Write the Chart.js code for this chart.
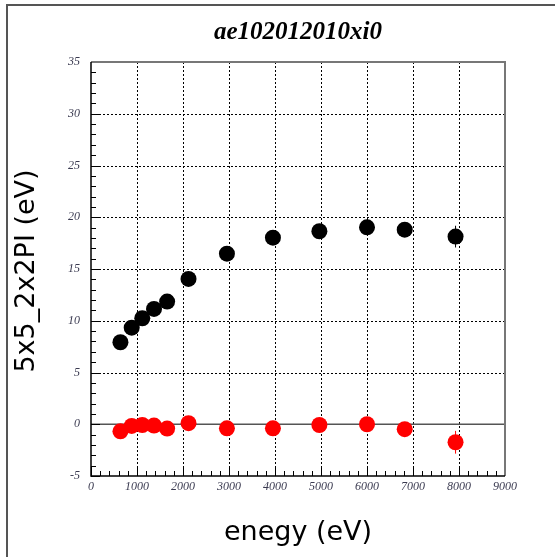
<!DOCTYPE html>
<html>
<head>
<meta charset="utf-8">
<script src="https://cdn.jsdelivr.net/npm/chart.js@4.4.1/dist/chart.umd.min.js"></script>
<style>
    body { margin: 0; background: #fff; }
    canvas { display: block; }
</style>
</head>
<body>
<canvas id="myChart" width="555" height="557"></canvas>
<script>
// values
const energy = [640, 885, 1115, 1370, 1655, 2120, 2955, 3955, 4965, 6000, 6820, 7925];
const width5x5 = [7.92, 9.33, 10.24, 11.14, 11.85, 14.04, 16.48, 18.03, 18.65, 19.03, 18.80, 18.13];
const widthErr5x5 = [0.3, 0.3, 0.3, 0.3, 0.3, 0.3, 0.4, 0.4, 0.4, 0.5, 0.5, 1.05];
const shift2x2 = [-0.68, -0.16, -0.07, -0.13, -0.42, 0.10, -0.39, -0.39, -0.07, 0.00, -0.48, -1.74];
const shiftErr2x2 = [0.3, 0.3, 0.3, 0.3, 0.3, 0.3, 0.4, 0.4, 0.4, 0.5, 0.5, 1.1];
const xTicks = [0, 1000, 2000, 3000, 4000, 5000, 6000, 7000, 8000, 9000];
const yTicks = [-5, 0, 5, 10, 15, 20, 25, 30, 35];

const chartTitle = "ae102012010xi0";
const xTitle = "enegy (eV)";
const yTitle = "5x5_2x2PI (eV)";

function toPoints(xs, ys, errs) {
    let pts = [];
    for (let i = 0; i < xs.length; i++) {
        pts.push({x: xs[i], y: ys[i], err: errs[i]});
    }
    return pts;
}

// grid, ticks, frame, error bars and titles
const framePlugin = {
    id: 'frame',
    beforeDatasetsDraw(chart) {
        const ctx = chart.ctx;
        const a = chart.chartArea;
        const xs = chart.scales.x;
        const ys = chart.scales.y;
        ctx.save();

        // dotted grid
        ctx.strokeStyle = '#000';
        ctx.lineWidth = 1;
        ctx.setLineDash([2, 2]);
        xTicks.slice(1, -1).forEach(v => {
            const px = Math.round(xs.getPixelForValue(v)) + 0.5;
            ctx.beginPath();
            ctx.moveTo(px, a.top);
            ctx.lineTo(px, a.bottom);
            ctx.stroke();
        });
        yTicks.slice(1, -1).forEach(v => {
            if (v === 0) return;
            const py = Math.round(ys.getPixelForValue(v)) + 0.5;
            ctx.beginPath();
            ctx.moveTo(a.left, py);
            ctx.lineTo(a.right, py);
            ctx.stroke();
        });
        ctx.setLineDash([]);

        // zero line
        const y0 = ys.getPixelForValue(0);
        ctx.strokeStyle = '#555';
        ctx.lineWidth = 1.5;
        ctx.beginPath();
        ctx.moveTo(a.left, y0);
        ctx.lineTo(a.right, y0);
        ctx.stroke();

        // minor and major ticks, pointing inward
        ctx.strokeStyle = '#000';
        ctx.lineWidth = 1;
        for (let v = -5; v <= 35; v += 1) {
            const py = Math.round(ys.getPixelForValue(v)) + 0.5;
            const len = (v % 5 === 0) ? 9 : 5;
            ctx.beginPath();
            ctx.moveTo(a.left, py);
            ctx.lineTo(a.left + len, py);
            ctx.stroke();
        }
        for (let v = 0; v <= 9000; v += 200) {
            const px = Math.round(xs.getPixelForValue(v)) + 0.5;
            const len = (v % 1000 === 0) ? 9 : 5;
            ctx.beginPath();
            ctx.moveTo(px, a.bottom);
            ctx.lineTo(px, a.bottom - len);
            ctx.stroke();
        }

        // error bars
        chart.data.datasets.forEach(ds => {
            ctx.strokeStyle = ds.backgroundColor;
            ctx.lineWidth = 1;
            ds.data.forEach(p => {
                const px = xs.getPixelForValue(p.x);
                ctx.beginPath();
                ctx.moveTo(px, ys.getPixelForValue(p.y - p.err));
                ctx.lineTo(px, ys.getPixelForValue(p.y + p.err));
                ctx.stroke();
            });
        });
        ctx.restore();
    },
    afterDraw(chart) {
        const ctx = chart.ctx;
        const a = chart.chartArea;
        ctx.save();

        // plot box: grey top/right, black left/bottom
        ctx.strokeStyle = '#777';
        ctx.lineWidth = 2;
        ctx.beginPath();
        ctx.moveTo(a.left, a.top);
        ctx.lineTo(a.right, a.top);
        ctx.lineTo(a.right, a.bottom);
        ctx.stroke();
        ctx.strokeStyle = '#000';
        ctx.lineWidth = 1.5;
        ctx.beginPath();
        ctx.moveTo(a.left, a.top);
        ctx.lineTo(a.left, a.bottom);
        ctx.lineTo(a.right, a.bottom);
        ctx.stroke();

        // outer frame
        ctx.strokeStyle = '#555';
        ctx.lineWidth = 2;
        ctx.beginPath();
        ctx.moveTo(7, chart.height);
        ctx.lineTo(7, 5);
        ctx.lineTo(chart.width, 5);
        ctx.stroke();

        // titles
        ctx.fillStyle = '#000';
        ctx.textAlign = 'center';
        ctx.textBaseline = 'alphabetic';
        ctx.font = 'italic bold 25px "Liberation Serif"';
        ctx.fillText(chartTitle, 298, 39);

        ctx.font = '27px "DejaVu Sans"';
        ctx.fillText(xTitle, 298, 540);

        ctx.translate(34, 271);
        ctx.rotate(-Math.PI / 2);
        ctx.fillText(yTitle, 0, 0);
        ctx.restore();
    }
};

const tickFont = {family: 'Liberation Serif', size: 12, style: 'italic'};

const graph = new Chart("myChart", {
    type: "scatter",
    data: {
        datasets: [{
                label: '5x5',
                data: toPoints(energy, width5x5, widthErr5x5),
                backgroundColor: "#000000",
                borderWidth: 0,
                pointRadius: 8,
                hoverRadius: 8
            }, {
                label: '2x2',
                data: toPoints(energy, shift2x2, shiftErr2x2),
                backgroundColor: "#ff0000",
                borderWidth: 0,
                pointRadius: 8,
                hoverRadius: 8
            }]
    },
    options: {
        responsive: false,
        animation: false,
        devicePixelRatio: 1,
        layout: {
            padding: {top: 62, right: 50, left: 0, bottom: 0}
        },
        scales: {
            x: {
                type: 'linear',
                min: 0,
                max: 9000,
                afterFit: function (s) {
                    s.height = 81;
                },
                afterBuildTicks: function (s) {
                    s.ticks = xTicks.map(v => ({value: v}));
                },
                grid: {display: false, drawTicks: false},
                border: {display: false},
                ticks: {
                    font: tickFont,
                    color: '#3a3a50',
                    padding: 4,
                    maxRotation: 0,
                    autoSkip: false,
                    callback: function (value) {
                        return String(value);
                    }
                }
            },
            y: {
                type: 'linear',
                min: -5,
                max: 35,
                afterFit: function (s) {
                    s.width = 91;
                },
                afterBuildTicks: function (s) {
                    s.ticks = yTicks.map(v => ({value: v}));
                },
                grid: {display: false, drawTicks: false},
                border: {display: false},
                ticks: {
                    font: tickFont,
                    color: '#3a3a50',
                    padding: 11,
                    autoSkip: false,
                    callback: function (value) {
                        return String(value);
                    }
                }
            }
        },
        plugins: {
            legend: {display: false},
            tooltip: {enabled: false}
        }
    },
    plugins: [framePlugin]
});
</script>
</body>
</html>
